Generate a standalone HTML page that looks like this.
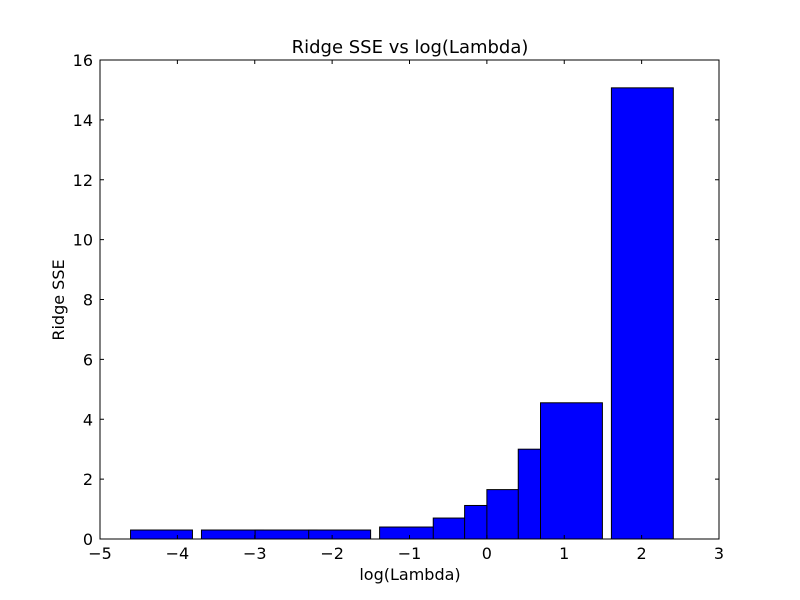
<!DOCTYPE html>
<html><head><meta charset="utf-8"><style>
body{margin:0;background:#fff;}
svg{display:block;font-family:"DejaVu Sans","Liberation Sans",sans-serif;}
</style></head><body>
<svg id="chart" width="800" height="600">
<rect x="0" y="0" width="800" height="600" fill="#fff"/>
<text x="410" y="53" font-size="18" text-anchor="middle">Ridge SSE vs log(Lambda)</text>
<text x="410" y="580" font-size="16" text-anchor="middle">log(Lambda)</text>
<text x="64" y="300" font-size="16" text-anchor="middle" transform="rotate(-90 64 300)">Ridge SSE</text>
<g id="bars"></g>
<g id="ticks"></g>
<rect x="100" y="60" width="619" height="479" fill="none" stroke="#000" stroke-width="1"/>
</svg>
<script>
const lambdas=[0.01,0.025,0.05,0.1,0.25,0.5,0.75,1,1.5,2,5];
const sse=[0.3,0.3,0.3,0.3,0.4,0.7,1.12,1.65,3.0,4.55,15.07];
const barWidth=0.8;
const xTicks=[-5,-4,-3,-2,-1,0,1,2,3];
const yTicks=[0,2,4,6,8,10,12,14,16];
const X0=100,X1=719,Y0=539,Y1=60;
const xs=v=>X0+(v+5)/8*(X1-X0);
const ys=v=>Y0-v/16*(Y0-Y1);
const NS="http://www.w3.org/2000/svg";
const bars=document.getElementById('bars');
lambdas.forEach((l,i)=>{
  const lx=Math.log(l);
  const r=document.createElementNS(NS,'rect');
  r.setAttribute('x',xs(lx));
  r.setAttribute('width',xs(lx+barWidth)-xs(lx));
  r.setAttribute('y',ys(sse[i]));
  r.setAttribute('height',ys(0)-ys(sse[i]));
  r.setAttribute('fill','#0000ff');
  r.setAttribute('stroke','#000');
  r.setAttribute('stroke-width','1');
  
  
  bars.appendChild(r);
});
const tk=document.getElementById('ticks');
function line(x1,y1,x2,y2){const l=document.createElementNS(NS,'line');l.setAttribute('x1',x1);l.setAttribute('y1',y1);l.setAttribute('x2',x2);l.setAttribute('y2',y2);l.setAttribute('stroke','#000');tk.appendChild(l);}
function txt(x,y,s,anchor,name){const t=document.createElementNS(NS,'text');t.setAttribute('x',x);t.setAttribute('y',y);t.setAttribute('font-size','16');t.setAttribute('text-anchor',anchor);t.textContent=s;


tk.appendChild(t);}
xTicks.forEach(v=>{const x=xs(v);line(x,Y0,x,Y0-4);line(x,Y1,x,Y1+4);txt(x,Y0+20,v<0?'\u2212'+(-v):String(v),'middle','x-tick-label');});
yTicks.forEach(v=>{const y=ys(v);line(X0,y,X0+4,y);line(X1,y,X1-4,y);txt(X0-7,y+6,String(v),'end','y-tick-label');});
</script>
</body></html>
